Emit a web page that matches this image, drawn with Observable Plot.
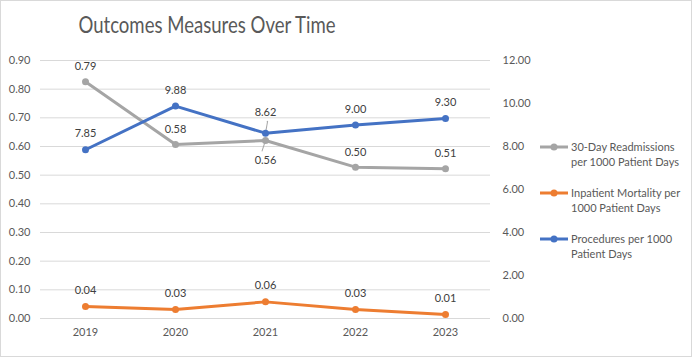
<!DOCTYPE html>
<html><head><meta charset="utf-8">
<script src="https://cdn.jsdelivr.net/npm/d3@7"></script>
<script src="https://cdn.jsdelivr.net/npm/@observablehq/plot@0.6"></script>
<style>
html,body{margin:0;padding:0;background:#fff;}
#wrap{position:relative;width:692px;height:357px;font-family:Lato,"Liberation Sans",sans-serif;}
#frame{position:absolute;left:0;top:0;width:690px;height:355px;border:1px solid #d9d9d9;pointer-events:none;}
#title{position:absolute;left:0;width:414px;top:10px;text-align:center;font-size:23.5px;color:#595959;transform:scaleX(0.79);transform-origin:207px 0;white-space:nowrap;}
#legend{position:absolute;left:540px;top:0;font-size:11px;color:#595959;}
.li{position:absolute;left:0;width:150px;}
.li svg{position:absolute;left:0;top:1px;}
.li span{position:absolute;left:31px;top:0;line-height:15px;white-space:nowrap;}
</style></head>
<body><div id="wrap"><div id="title">Outcomes Measures Over Time</div><div id="legend"></div><div id="frame"></div></div>
<script>
const years = ["2019","2020","2021","2022","2023"];
const readmissions = [0.826, 0.607, 0.621, 0.528, 0.522];
const readmissionLabels = ["0.79","0.58","0.56","0.50","0.51"];
const mortality = [0.042, 0.031, 0.058, 0.031, 0.014];
const mortalityLabels = ["0.04","0.03","0.06","0.03","0.01"];
const procedures = [7.85, 9.88, 8.62, 9.00, 9.30];
const procedureLabels = ["7.85","9.88","8.62","9.00","9.30"];
const leftTicks = [0,0.1,0.2,0.3,0.4,0.5,0.6,0.7,0.8,0.9];
const rightTicks = [0,2,4,6,8,10,12];
const seriesNames = ["30-Day Readmissions\nper 1000 Patient Days","Inpatient Mortality per\n1000 Patient Days","Procedures per 1000\nPatient Days"];
const colors = ["#A5A5A5","#ED7D31","#4472C4"];

const k = 0.9/12;
const gray = years.map((y,i)=>({year:y, v:readmissions[i], label:readmissionLabels[i]}));
const orange = years.map((y,i)=>({year:y, v:mortality[i], label:mortalityLabels[i]}));
const blue = years.map((y,i)=>({year:y, v:procedures[i]*k, label:procedureLabels[i]}));

const leader = {draw(context, l){ context.moveTo(0,0); context.lineTo(0,-l); }};
const font = "Lato, 'Liberation Sans', sans-serif";
const chart = Plot.plot({
  width:692, height:357,
  marginTop:60, marginBottom:39, marginLeft:40, marginRight:202,
  style:{fontFamily:font, fontSize:"11px", color:"#595959", background:"transparent"},
  x:{type:"point", domain:years, padding:0.5, label:null},
  y:{domain:[0,0.9], label:null},
  marks:[
    Plot.gridY(leftTicks, {stroke:"#d9d9d9", strokeOpacity:1}),
    Plot.axisY(leftTicks, {anchor:"left", tickSize:0, tickPadding:10, tickFormat:d=>d.toFixed(2), label:null, fill:"#595959"}),
    Plot.axisY(rightTicks.map(v=>v*k), {anchor:"right", tickSize:0, tickPadding:12, tickFormat:d=>(Math.round(d/k)).toFixed(2), label:null, fill:"#595959", textAnchor:"start"}),
    Plot.axisX(years, {tickSize:0, tickPadding:10, label:null, fill:"#595959"}),
    Plot.vector(blue.filter((d,i)=>i===2), {x:"year", y:"v", length:12, rotate:10, anchor:"start", shape:leader, stroke:"#a6a6a6", strokeWidth:1}),
    Plot.vector(gray.filter((d,i)=>i===2), {x:"year", y:"v", length:11, rotate:198, anchor:"start", shape:leader, stroke:"#a6a6a6", strokeWidth:1}),
    Plot.line(gray, {x:"year", y:"v", stroke:colors[0], strokeWidth:3}),
    Plot.dot(gray, {x:"year", y:"v", fill:colors[0], r:3.5}),
    Plot.line(orange, {x:"year", y:"v", stroke:colors[1], strokeWidth:3}),
    Plot.dot(orange, {x:"year", y:"v", fill:colors[1], r:3.5}),
    Plot.line(blue, {x:"year", y:"v", stroke:colors[2], strokeWidth:3}),
    Plot.dot(blue, {x:"year", y:"v", fill:colors[2], r:3.5}),
    Plot.text(gray.filter((d,i)=>i!==2), {x:"year", y:"v", text:"label", dy:-15, fill:"#404040"}),
    Plot.text(gray.filter((d,i)=>i===2), {x:"year", y:"v", text:"label", dy:20, fill:"#404040"}),
    Plot.text(orange, {x:"year", y:"v", text:"label", dy:-16, fill:"#404040"}),
    Plot.text(blue.filter((d,i)=>i!==2), {x:"year", y:"v", text:"label", dy:-16, fill:"#404040"}),
    Plot.text(blue.filter((d,i)=>i===2), {x:"year", y:"v", text:"label", dy:-21, fill:"#404040"})
  ]
});
chart.style.position="absolute"; chart.style.left="0"; chart.style.top="0";
document.getElementById("wrap").insertBefore(chart, document.getElementById("title"));

const legend = document.getElementById("legend");
const tops = [139, 185, 231];
seriesNames.forEach((name,i)=>{
  const div = document.createElement("div");
  div.className="li"; div.style.top = tops[i]+"px";
  div.innerHTML = `<svg width="30" height="14"><line x1="0" x2="28" y1="7" y2="7" stroke="${colors[i]}" stroke-width="3"/><circle cx="14" cy="7" r="3.5" fill="${colors[i]}"/></svg><span>${name.replace("\n","<br>")}</span>`;
  legend.appendChild(div);
});
</script></body></html>
